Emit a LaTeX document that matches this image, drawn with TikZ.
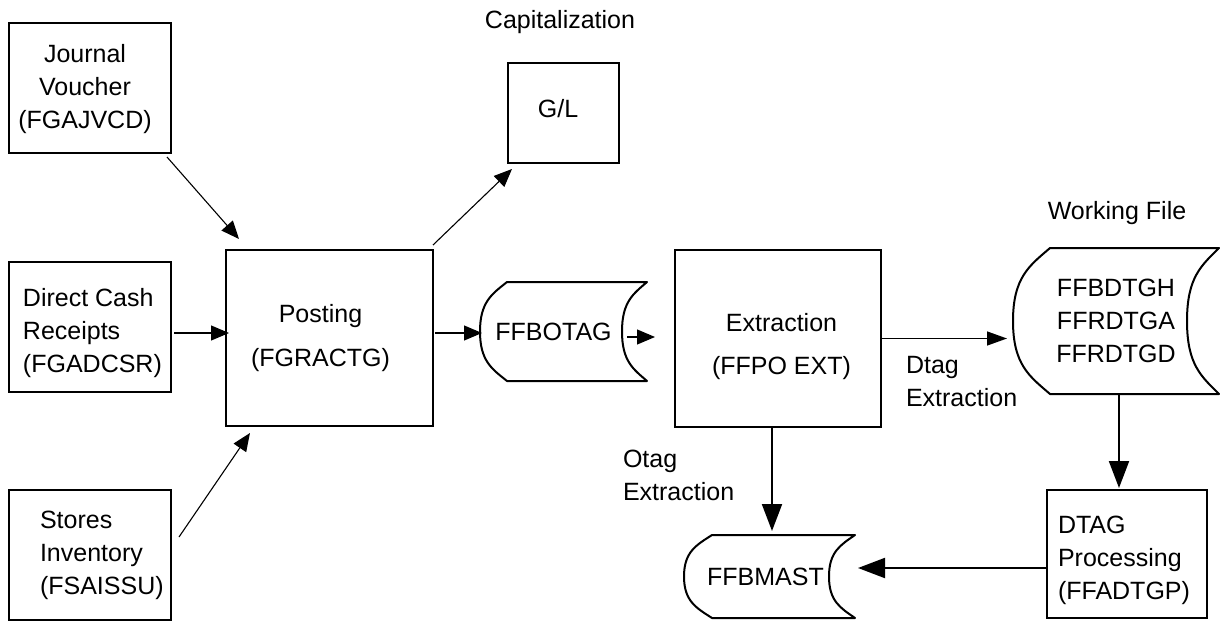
\documentclass[tikz,border=0pt]{standalone}
\usepackage{fontspec}
\setmainfont{Liberation Sans}
\usetikzlibrary{arrows.meta}
% storage shape around a node: #1 name, #2 left corner inset, #3 right concave depth, #4 height (px units)
\newcommand\storageshape[4]{%
  \draw[shp] ([shift={(#2,0)}]#1.north west) -- (#1.north east)
    .. controls ([shift={(-0.55*#3,0.12*#4)}]#1.north east) and ([shift={(-#3,-0.3*#4)}]#1.east) .. ([shift={(-#3,0)}]#1.east)
    .. controls ([shift={(-#3,0.3*#4)}]#1.east) and ([shift={(-0.55*#3,-0.12*#4)}]#1.south east) .. (#1.south east)
    -- ([shift={(#2,0)}]#1.south west)
    .. controls ([shift={(0.45*#2,-0.12*#4)}]#1.south west) and ([shift={(0,0.3*#4)}]#1.west) .. (#1.west)
    .. controls ([shift={(0,-0.3*#4)}]#1.west) and ([shift={(0.45*#2,0.12*#4)}]#1.north west) .. ([shift={(#2,0)}]#1.north west)
    -- cycle;}
\begin{document}
\begin{tikzpicture}[x=0.5pt,y=-0.5pt,
  every node/.style={font=\fontsize{12.5}{16.5}\selectfont},
  box/.style={draw, line width=1pt, inner sep=0pt, outer sep=0pt},
  txt/.style={inner sep=0pt, outer sep=0pt},
  store/.style={inner sep=0pt, outer sep=0pt},
  shp/.style={line width=1pt, line join=round},
  thinarrow/.style={line width=0.55pt, -{Triangle[length=9pt,width=7.5pt]}},
  medarrow/.style={line width=0.7pt, -{Triangle[length=10pt,width=7pt]}},
  thickarrow/.style={line width=1pt, -{Triangle[length=13.5pt,width=10pt]}}
]
\useasboundingbox (0,0) rectangle (1222,621);

% boxes
\node[box, minimum width=81pt, minimum height=65pt] (jv) at (90,88) {};
\node[box, minimum width=81pt, minimum height=65pt] (dc) at (90,327) {};
\node[box, minimum width=81pt, minimum height=65pt] (st) at (90,555) {};
\node[box, minimum width=103.5pt, minimum height=88pt] (post) at (329.5,338) {};
\node[box, minimum width=55.5pt, minimum height=50pt] (gl) at (563.5,113) {};
\node[box, minimum width=103pt, minimum height=88.5pt] (ext) at (778,338.5) {};
\node[box, minimum width=80pt, minimum height=64pt] (dtag) at (1127,554) {};

% storage shapes
\node[store, minimum width=83.5pt, minimum height=49.5pt] (ffbotag) at (563.5,331.5) {FFBOTAG\kern10pt};
\storageshape{ffbotag}{27}{25}{99}
\node[store, minimum width=103pt, minimum height=73pt, align=center] (wf) at (1116,321) {FFBDTGH\\FFRDTGA\\FFRDTGD};
\storageshape{wf}{37}{32}{146}
\node[store, minimum width=85.5pt, minimum height=41.5pt] (ffbmast) at (769.5,576.5) {FFBMAST\kern4pt};
\storageshape{ffbmast}{28}{26}{83}

% texts in boxes
\node[txt, align=center] (jv-t) at ([shift={(-5,1)}]jv.center) {Journal\\Voucher\\(FGAJVCD)};
\node[txt, align=left, anchor=west] (dc-t) at ([shift={(14,6)}]dc.west) {Direct Cash\\Receipts\\(FGADCSR)};
\node[txt, align=left, anchor=west] (st-t) at ([shift={(31,0)}]st.west) {Stores\\Inventory\\(FSAISSU)};
\node[txt, align=center] (post-t) at ([shift={(-9,0)}]post.center) {Posting\\[5.5pt](FGRACTG)};
\node[txt, align=center] (ext-t) at ([shift={(3.5,8)}]ext.center) {Extraction\\[5pt](FFPO EXT)};
\node[txt] (gl-t) at ([shift={(-5.5,-4)}]gl.center) {G/L};
\node[txt, align=left, anchor=west] (dtag-t) at ([shift={(11,6)}]dtag.west) {DTAG\\Processing\\(FFADTGP)};

% free labels
\node[txt] (cap) at (560,22) {Capitalization};
\node[txt] (wft) at (1117,213) {Working File};
\node[txt, align=left, anchor=west] (otag) at (623,475) {Otag\\Extraction};
\node[txt, align=left, anchor=west] (dtagx) at (906,382) {Dtag\\Extraction};

% connectors
\draw[thinarrow] ([shift={(-4,4)}]jv.south east) -- ([shift={(13,-11)}]post.north west);
\draw[thinarrow] ([shift={(3,6)}]dc.east) -- ([shift={(3,6)}]dc.east -| post.west);
\draw[thinarrow] ([shift={(8,-18)}]st.east) -- ([shift={(24,7)}]post.south west);
\draw[thinarrow] ([shift={(0,-5)}]post.north east) -- ([shift={(4,6)}]gl.south west);
\draw[thinarrow] ([shift={(2,-5)}]post.east) -- ([shift={(2,-5)}]post.east -| ffbotag.west);
\draw[thinarrow] ([shift={(-20,5.5)}]ffbotag.east) -- ([shift={(-20,5.5)}]ffbotag.east -| ext.west);
\draw[medarrow, shorten >=3pt] (ext.east) -- (ext.east -| wf.west);
\draw[thickarrow, shorten >=2pt] ([shift={(-6,0)}]ext.south) -- ([shift={(-6,0)}]ext.south |- ffbmast.north);
\draw[thickarrow, shorten >=1pt] ([shift={(3,0)}]wf.south) -- ([shift={(3,0)}]wf.south |- dtag.north);
\draw[thickarrow, shorten >=1.5pt] ([shift={(0,14)}]dtag.west) -- ([shift={(0,14)}]dtag.west -| ffbmast.east);
\end{tikzpicture}
\end{document}
